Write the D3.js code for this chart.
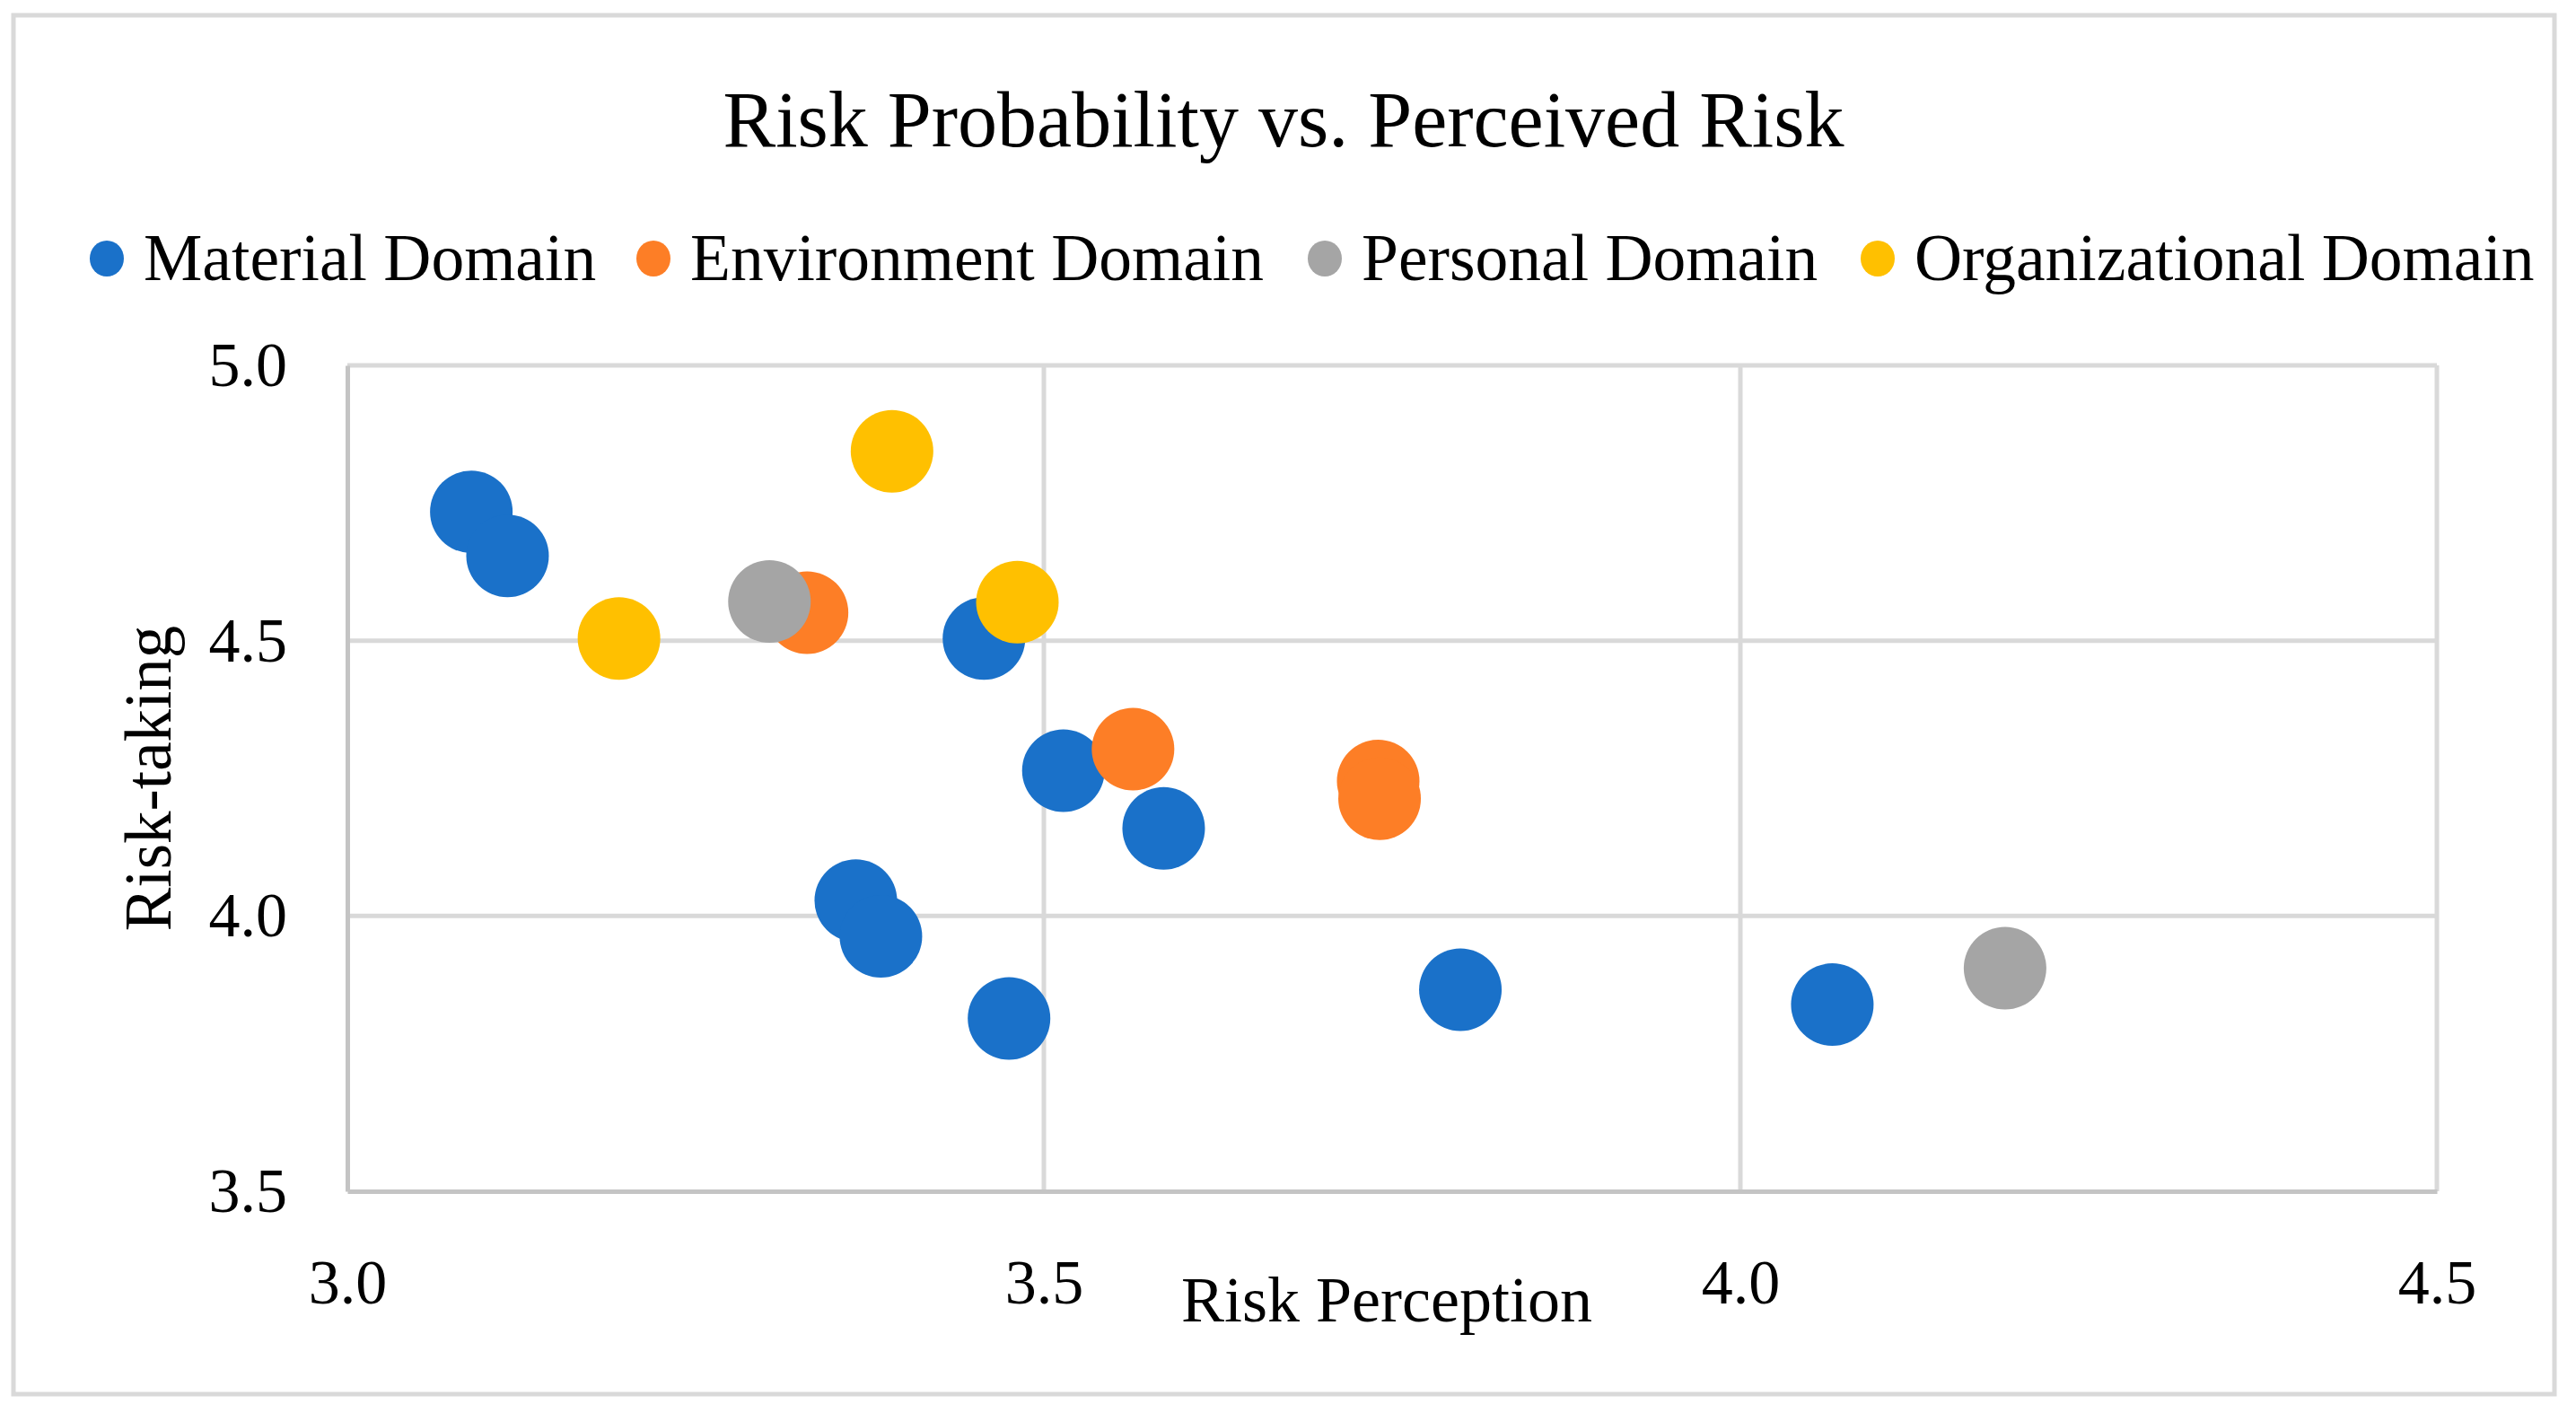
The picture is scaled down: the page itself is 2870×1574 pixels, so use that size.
<!DOCTYPE html>
<html>
<head>
<meta charset="utf-8">
<script src="https://cdn.jsdelivr.net/npm/d3@7"></script>
<style>
  body { margin: 0; background: #fff; }
  text { font-family: "Liberation Serif", "Times New Roman", serif; fill: #000; }
</style>
</head>
<body>
<div id="vis"></div>
<script>
// chart size and plot margins
const W = 2870, H = 1574;
const margin = { top: 407, right: 155, bottom: 247, left: 387 };
const width = W - margin.left - margin.right;
const height = H - margin.top - margin.bottom;

// series
const seriesNames = ['Material Domain', 'Environment Domain', 'Personal Domain', 'Organizational Domain'];
const seriesColors = ['#1a71c9', '#fd7e26', '#a5a5a5', '#ffc000'];

const materialX = [3.089, 3.115, 3.457, 3.514, 3.586, 3.365, 3.383, 3.475, 3.799, 4.066];
const materialY = [4.734, 4.654, 4.504, 4.264, 4.159, 4.028, 3.963, 3.814, 3.866, 3.839];
const environmentX = [3.330, 3.564, 3.740, 3.741];
const environmentY = [4.551, 4.303, 4.245, 4.213];
const personalX = [3.303, 4.190];
const personalY = [4.571, 3.905];
const organizationalX = [3.195, 3.391, 3.481];
const organizationalY = [4.504, 4.844, 4.570];

const xTicks = [3.0, 3.5, 4.0, 4.5];
const yTicks = [3.5, 4.0, 4.5, 5.0];

const series = [
    [materialX, materialY],
    [environmentX, environmentY],
    [personalX, personalY],
    [organizationalX, organizationalY]
].map(([xs, ys], i) => ({
    name: seriesNames[i],
    color: seriesColors[i],
    points: xs.map((x, j) => ({ x, y: ys[j] }))
}));

const root = d3.select('#vis')
    .append('svg')
    .attr('width', W)
    .attr('height', H);

// outer frame
root.append('rect')
    .attr('x', 15).attr('y', 17)
    .attr('width', 2831).attr('height', 1536)
    .attr('fill', '#fff')
    .attr('stroke', '#d9d9d9')
    .attr('stroke-width', 5);

// title
root.append('text')
    .attr('x', 1430).attr('y', 163)
    .attr('text-anchor', 'middle')
    .style('font-size', '88px')
    .text('Risk Probability vs. Perceived Risk');

// legend
const legendX = [119, 728, 1476, 2092];
const legend = root.append('g')
    .selectAll('g')
    .data(series)
    .join('g')
    .attr('transform', (d, i) => `translate(${legendX[i]},288)`);
legend.append('ellipse')
    .attr('rx', 19).attr('ry', 20)
    .attr('fill', d => d.color);
legend.append('text')
    .attr('x', 41).attr('y', 24)
    .style('font-size', '73.5px')
    .text(d => d.name);

const svg = root.append('g')
    .attr('transform', `translate(${margin.left},${margin.top})`);

const x = d3.scaleLinear().domain([3.0, 4.5]).range([0, width]);
const y = d3.scaleLinear().domain([3.5, 5.0]).range([height, 0]);

// gridlines
svg.append('g')
    .selectAll('line.gx')
    .data(xTicks.slice(1))
    .join('line')
    .attr('x1', d => x(d)).attr('x2', d => x(d))
    .attr('y1', 0).attr('y2', height)
    .attr('stroke', '#d9d9d9')
    .attr('stroke-width', 5);
svg.append('g')
    .selectAll('line.gy')
    .data(yTicks.slice(1))
    .join('line')
    .attr('x1', 0).attr('x2', width)
    .attr('y1', d => y(d)).attr('y2', d => y(d))
    .attr('stroke', '#d9d9d9')
    .attr('stroke-width', 5);

// axes
const xAxis = svg.append('g')
    .attr('transform', `translate(0,${height})`)
    .call(d3.axisBottom(x).tickValues(xTicks).tickFormat(d3.format('.1f')).tickSize(0).tickPadding(75));
xAxis.select('.domain').attr('stroke', '#c4c4c4').attr('stroke-width', 5);
xAxis.selectAll('text').style('font-size', '70px').style('font-family', '"Liberation Serif", serif');

const yAxis = svg.append('g')
    .call(d3.axisLeft(y).tickValues(yTicks).tickFormat(d3.format('.1f')).tickSize(0).tickPadding(67));
yAxis.select('.domain').attr('stroke', '#c4c4c4').attr('stroke-width', 5);
yAxis.selectAll('text').style('font-size', '70px').style('font-family', '"Liberation Serif", serif');

// axis titles
root.append('text')
    .attr('x', 1545).attr('y', 1472)
    .attr('text-anchor', 'middle')
    .style('font-size', '72px')
    .text('Risk Perception');
root.append('text')
    .attr('transform', 'translate(190,867) rotate(-90)')
    .attr('text-anchor', 'middle')
    .style('font-size', '73px')
    .text('Risk-taking');

// points, series drawn in order so later ones sit on top
svg.append('g')
    .selectAll('g')
    .data(series)
    .join('g')
    .attr('fill', d => d.color)
    .selectAll('circle')
    .data(d => d.points)
    .join('circle')
    .attr('cx', d => x(d.x))
    .attr('cy', d => y(d.y))
    .attr('r', 46);
</script>
</body>
</html>
